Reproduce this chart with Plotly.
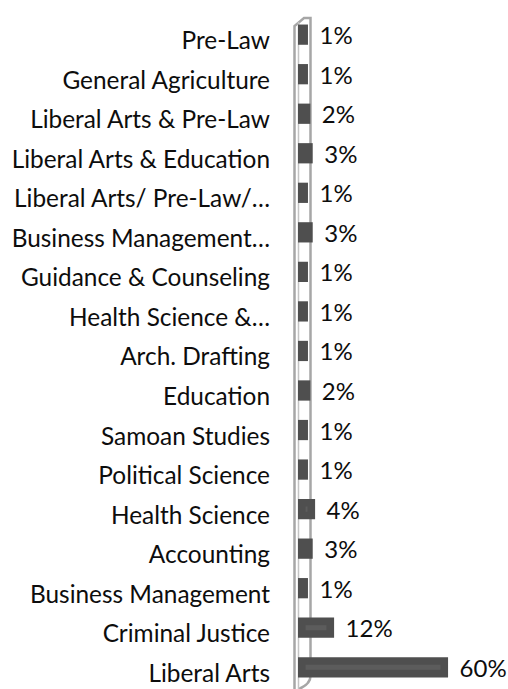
import plotly.graph_objects as go

categories = [
    "Pre-Law", "General Agriculture", "Liberal Arts & Pre-Law",
    "Liberal Arts & Education", "Liberal Arts/ Pre-Law/…",
    "Business Management…", "Guidance & Counseling", "Health Science &…",
    "Arch. Drafting", "Education", "Samoan Studies", "Political Science",
    "Health Science", "Accounting", "Business Management",
    "Criminal Justice", "Liberal Arts",
]
values = [1, 1, 2, 3, 1, 3, 1, 1, 1, 2, 1, 1, 4, 3, 1, 12, 60]
value_labels = [f"{v}%" for v in values]

W, H = 508, 689
ML, MR, MT, MB = 298, 40, 22, 0
PW = W - ML - MR
PH = H - MT - MB

def px(x):
    return (x - ML) / PW

def py(y):
    return (H - MB - y) / PH

fig = go.Figure(go.Bar(
    y=categories, x=values, orientation="h",
    width=0.32, offset=-0.31,
    marker=dict(color="#5c5c5c", line=dict(color="#4f4f4f", width=7.6)),
    text=value_labels,
    texttemplate="\u00a0\u00a0%{text}",
    textposition="outside", constraintext="none", cliponaxis=False,
    textfont=dict(family="Lato", size=24, color="#0d0d0d"),
    hoverinfo="skip",
))

wall = (f"M {px(294.5)} {py(689)} L {px(294.5)} {py(26)} L {px(304)} {py(18)} "
        f"L {px(310.5)} {py(18)} L {px(310.5)} {py(676)} "
        f"Q {px(310.5)} {py(684)} {px(299)} {py(689)}")
fig.add_shape(type="path", xref="paper", yref="paper", path=wall,
              line=dict(color="#a6a6a6", width=2.5), layer="below")
fig.add_shape(type="line", xref="paper", yref="paper",
              x0=px(298.5), x1=px(298.5), y0=py(689), y1=py(22),
              line=dict(color="#c4c4c4", width=1.5), layer="below")

fig.update_layout(
    width=W, height=H,
    margin=dict(l=ML, r=MR, t=MT, b=MB, pad=0),
    paper_bgcolor="white", plot_bgcolor="white",
    showlegend=False,
    font=dict(family="Lato", size=24, color="#0d0d0d"),
    xaxis=dict(range=[-1.6, 70], visible=False, fixedrange=True),
    yaxis=dict(categoryorder="array", categoryarray=categories,
               range=[16.4, -0.47], showgrid=False, showline=False,
               ticks="", ticklabelstandoff=27, fixedrange=True,
               tickfont=dict(family="Lato", size=24.4, color="#0d0d0d")),
)

fig.write_html(
    "out.html",
    config={"displayModeBar": False},
    post_script="document.body.style.margin='0';document.body.style.padding='0';",
)
